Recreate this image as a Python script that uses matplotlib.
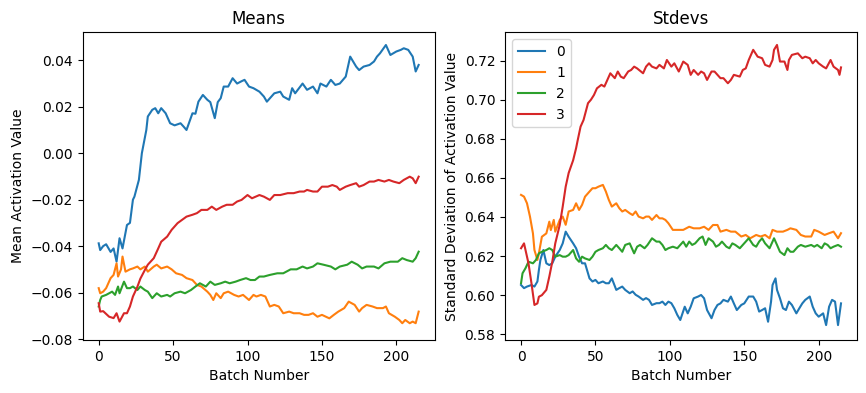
import matplotlib
matplotlib.use("Agg")
import matplotlib.pyplot as plt

# per-layer activation means (batch number, value)
mean0_x = [0, 1, 3, 5, 8, 10, 12, 14, 16, 19, 21, 23, 24, 27, 29, 32, 33, 36, 38, 40, 42, 45, 48, 51, 55, 57, 59,
           63, 65, 67, 70, 73, 75, 78, 80, 82, 84, 87, 90, 93, 96, 98, 101, 104, 108, 111, 113, 118, 122, 124, 128,
           130, 132, 137, 140, 144, 147, 149, 153, 156, 159, 162, 166, 169, 173, 175, 178, 182, 185, 187, 189, 193,
           196, 200, 203, 205, 208, 211, 213, 215]
mean0_y = [-0.0388, -0.0417, -0.0400, -0.0392, -0.0425, -0.0410, -0.0467, -0.0366, -0.0410, -0.0309, -0.0300,
           -0.0200, -0.0187, -0.0115, 0.0000, 0.0100, 0.0158, 0.0187, 0.0194, 0.0172, 0.0194, 0.0172, 0.0129, 0.0120,
           0.0129, 0.0115, 0.0100, 0.0172, 0.0170, 0.0222, 0.0251, 0.0230, 0.0220, 0.0151, 0.0220, 0.0237, 0.0287,
           0.0287, 0.0323, 0.0300, 0.0310, 0.0316, 0.0287, 0.0280, 0.0265, 0.0244, 0.0222, 0.0258, 0.0265, 0.0244,
           0.0230, 0.0280, 0.0258, 0.0300, 0.0273, 0.0287, 0.0258, 0.0300, 0.0287, 0.0316, 0.0294, 0.0300, 0.0330,
           0.0416, 0.0373, 0.0358, 0.0373, 0.0380, 0.0395, 0.0416, 0.0430, 0.0466, 0.0423, 0.0438, 0.0445, 0.0452,
           0.0445, 0.0416, 0.0352, 0.0380]

mean1_x = [0, 1, 3, 5, 8, 10, 12, 13, 15, 16, 18, 21, 23, 26, 28, 31, 33, 37, 39, 42, 46, 49, 52, 56, 59, 63, 66,
           69, 73, 75, 77, 79, 82, 84, 87, 91, 94, 97, 101, 104, 106, 109, 112, 115, 118, 121, 124, 128, 131, 135,
           138, 141, 144, 147, 150, 155, 158, 161, 165, 168, 172, 175, 177, 180, 184, 187, 191, 193, 195, 199, 202,
           204, 206, 209, 211, 213, 215]
mean1_y = [-0.0581, -0.0603, -0.0596, -0.0581, -0.0538, -0.0524, -0.0474, -0.0531, -0.0500, -0.0445, -0.0510,
           -0.0500, -0.0496, -0.0488, -0.0500, -0.0488, -0.0510, -0.0488, -0.0480, -0.0496, -0.0488, -0.0500,
           -0.0517, -0.0524, -0.0538, -0.0546, -0.0567, -0.0574, -0.0596, -0.0610, -0.0632, -0.0603, -0.0624,
           -0.0603, -0.0596, -0.0610, -0.0617, -0.0610, -0.0632, -0.0610, -0.0617, -0.0610, -0.0617, -0.0660,
           -0.0653, -0.0660, -0.0689, -0.0682, -0.0689, -0.0689, -0.0696, -0.0696, -0.0689, -0.0704, -0.0696,
           -0.0711, -0.0696, -0.0682, -0.0667, -0.0639, -0.0653, -0.0682, -0.0667, -0.0653, -0.0660, -0.0667,
           -0.0667, -0.0660, -0.0689, -0.0704, -0.0718, -0.0732, -0.0718, -0.0732, -0.0725, -0.0732, -0.0682]

mean2_x = [0, 1, 2, 5, 7, 9, 11, 13, 14, 17, 19, 21, 23, 26, 28, 31, 33, 36, 39, 42, 46, 48, 51, 55, 58, 62, 65,
           68, 72, 75, 78, 82, 85, 88, 92, 95, 99, 102, 105, 108, 111, 115, 120, 124, 129, 133, 137, 140, 144, 147,
           151, 156, 159, 162, 167, 170, 174, 177, 180, 185, 188, 192, 196, 201, 204, 207, 211, 213, 215]
mean2_y = [-0.0660, -0.0632, -0.0617, -0.0610, -0.0603, -0.0596, -0.0610, -0.0574, -0.0603, -0.0553, -0.0581,
           -0.0581, -0.0574, -0.0589, -0.0574, -0.0589, -0.0596, -0.0624, -0.0603, -0.0617, -0.0610, -0.0617,
           -0.0603, -0.0596, -0.0603, -0.0589, -0.0574, -0.0560, -0.0574, -0.0553, -0.0567, -0.0560, -0.0553,
           -0.0560, -0.0553, -0.0546, -0.0538, -0.0546, -0.0546, -0.0531, -0.0531, -0.0524, -0.0517, -0.0517,
           -0.0500, -0.0500, -0.0488, -0.0496, -0.0488, -0.0474, -0.0480, -0.0488, -0.0500, -0.0488, -0.0480,
           -0.0467, -0.0480, -0.0496, -0.0488, -0.0488, -0.0496, -0.0474, -0.0467, -0.0467, -0.0452, -0.0460,
           -0.0467, -0.0452, -0.0424]

mean3_x = [0, 1, 3, 7, 10, 12, 14, 17, 19, 21, 23, 26, 28, 31, 33, 37, 40, 42, 46, 49, 53, 56, 59, 63, 66, 69, 73,
           76, 79, 83, 86, 90, 93, 96, 100, 103, 108, 111, 115, 118, 122, 127, 131, 135, 138, 140, 144, 147, 150,
           154, 157, 160, 162, 166, 169, 173, 175, 178, 182, 185, 188, 192, 195, 198, 202, 205, 209, 211, 213, 215]
mean3_y = [-0.0646, -0.0682, -0.0680, -0.0704, -0.0710, -0.0689, -0.0725, -0.0689, -0.0689, -0.0660, -0.0617,
           -0.0575, -0.0540, -0.0503, -0.0480, -0.0452, -0.0410, -0.0381, -0.0359, -0.0330, -0.0301, -0.0287,
           -0.0273, -0.0265, -0.0258, -0.0244, -0.0244, -0.0230, -0.0244, -0.0230, -0.0222, -0.0222, -0.0208,
           -0.0201, -0.0180, -0.0194, -0.0180, -0.0187, -0.0201, -0.0180, -0.0180, -0.0172, -0.0172, -0.0165,
           -0.0165, -0.0158, -0.0165, -0.0165, -0.0144, -0.0144, -0.0137, -0.0144, -0.0158, -0.0144, -0.0137,
           -0.0129, -0.0144, -0.0137, -0.0122, -0.0122, -0.0115, -0.0122, -0.0115, -0.0122, -0.0129, -0.0115,
           -0.0101, -0.0108, -0.0129, -0.0101]

# per-layer activation standard deviations
std0_x = [0, 2, 4, 7, 9, 11, 12, 13, 15, 17, 19, 21, 23, 26, 28, 30, 32, 35, 37, 39, 41, 43, 46, 48, 50, 52, 55,
          57, 59, 61, 64, 66, 68, 70, 73, 75, 77, 79, 82, 84, 86, 88, 91, 93, 95, 97, 99, 101, 103, 105, 107, 110,
          112, 114, 116, 119, 121, 123, 125, 128, 130, 132, 134, 136, 139, 141, 143, 145, 148, 150, 153, 156, 158,
          160, 162, 164, 166, 168, 169, 171, 172, 174, 176, 178, 180, 182, 185, 187, 189, 191, 194, 196, 198, 200,
          203, 205, 207, 209, 211, 213, 215]
std0_y = [0.6052, 0.6036, 0.6044, 0.6052, 0.6044, 0.6070, 0.6129, 0.6180, 0.6231, 0.6163, 0.6154, 0.6163, 0.6197,
          0.6231, 0.6265, 0.6325, 0.6299, 0.6265, 0.6240, 0.6197, 0.6163, 0.6163, 0.6086, 0.6070, 0.6078, 0.6061,
          0.6070, 0.6061, 0.6061, 0.6086, 0.6027, 0.6036, 0.6044, 0.6027, 0.6010, 0.6019, 0.6002, 0.5993, 0.5976,
          0.5985, 0.5976, 0.5950, 0.5959, 0.5959, 0.5967, 0.5950, 0.5967, 0.5959, 0.5933, 0.5899, 0.5873, 0.5941,
          0.5907, 0.5941, 0.5984, 0.5993, 0.6001, 0.5984, 0.5924, 0.5882, 0.5924, 0.5950, 0.5958, 0.5976, 0.5967,
          0.5993, 0.5958, 0.5924, 0.5950, 0.5958, 0.5993, 0.5993, 0.5967, 0.5916, 0.5924, 0.5933, 0.5864, 0.5967,
          0.6052, 0.6086, 0.6027, 0.5984, 0.5933, 0.5924, 0.5967, 0.5950, 0.5907, 0.5933, 0.5958, 0.5976, 0.5993,
          0.5941, 0.5907, 0.5890, 0.5907, 0.5847, 0.5941, 0.5976, 0.5967, 0.5847, 0.5958]

std1_x = [0, 2, 4, 6, 8, 9, 11, 12, 14, 17, 19, 20, 22, 23, 26, 28, 30, 32, 35, 37, 39, 41, 43, 46, 48, 50, 52,
          55, 57, 59, 61, 64, 66, 68, 70, 73, 75, 77, 79, 82, 84, 86, 88, 91, 93, 95, 97, 99, 102, 105, 109, 111,
          113, 116, 120, 123, 126, 129, 132, 134, 138, 141, 144, 148, 151, 154, 158, 161, 164, 167, 169, 172, 176,
          179, 181, 185, 188, 191, 195, 197, 200, 204, 207, 210, 213, 215]
std1_y = [0.6513, 0.6504, 0.6470, 0.6402, 0.6316, 0.6231, 0.6180, 0.6214, 0.6299, 0.6316, 0.6376, 0.6333, 0.6385,
          0.6325, 0.6385, 0.6402, 0.6360, 0.6428, 0.6436, 0.6470, 0.6436, 0.6462, 0.6504, 0.6530, 0.6547, 0.6547,
          0.6555, 0.6564, 0.6530, 0.6487, 0.6453, 0.6470, 0.6445, 0.6428, 0.6436, 0.6419, 0.6410, 0.6428, 0.6402,
          0.6393, 0.6402, 0.6402, 0.6385, 0.6410, 0.6393, 0.6393, 0.6385, 0.6368, 0.6334, 0.6334, 0.6334, 0.6342,
          0.6350, 0.6342, 0.6342, 0.6350, 0.6334, 0.6359, 0.6359, 0.6325, 0.6334, 0.6325, 0.6325, 0.6300, 0.6308,
          0.6291, 0.6308, 0.6300, 0.6308, 0.6291, 0.6334, 0.6325, 0.6325, 0.6334, 0.6342, 0.6334, 0.6308, 0.6300,
          0.6300, 0.6334, 0.6325, 0.6308, 0.6317, 0.6325, 0.6291, 0.6317]

std2_x = [0, 1, 3, 5, 8, 10, 12, 14, 17, 19, 21, 23, 26, 28, 30, 32, 35, 37, 39, 41, 43, 46, 48, 50, 52, 55, 57,
          59, 61, 64, 66, 68, 70, 73, 75, 76, 78, 80, 83, 85, 88, 91, 93, 95, 97, 99, 102, 105, 109, 111, 113, 115,
          117, 120, 122, 124, 126, 129, 131, 133, 135, 138, 140, 142, 144, 147, 149, 151, 153, 156, 158, 160, 162,
          164, 167, 170, 172, 174, 177, 179, 181, 183, 186, 188, 191, 195, 197, 199, 202, 204, 206, 208, 210, 213,
          215]
std2_y = [0.6061, 0.6112, 0.6138, 0.6171, 0.6163, 0.6180, 0.6214, 0.6222, 0.6231, 0.6240, 0.6231, 0.6197, 0.6205,
          0.6197, 0.6197, 0.6205, 0.6231, 0.6188, 0.6171, 0.6197, 0.6188, 0.6180, 0.6197, 0.6222, 0.6231, 0.6240,
          0.6257, 0.6240, 0.6231, 0.6257, 0.6240, 0.6222, 0.6257, 0.6265, 0.6231, 0.6214, 0.6248, 0.6257, 0.6240,
          0.6257, 0.6291, 0.6274, 0.6274, 0.6257, 0.6231, 0.6240, 0.6248, 0.6240, 0.6274, 0.6248, 0.6274, 0.6257,
          0.6265, 0.6291, 0.6300, 0.6257, 0.6291, 0.6274, 0.6248, 0.6257, 0.6274, 0.6248, 0.6240, 0.6265, 0.6257,
          0.6240, 0.6257, 0.6274, 0.6291, 0.6257, 0.6248, 0.6274, 0.6291, 0.6265, 0.6240, 0.6291, 0.6257, 0.6222,
          0.6205, 0.6240, 0.6222, 0.6222, 0.6248, 0.6257, 0.6248, 0.6257, 0.6248, 0.6257, 0.6240, 0.6265, 0.6257,
          0.6240, 0.6248, 0.6257, 0.6248]

std3_x = [0, 2, 3, 5, 7, 9, 11, 12, 14, 17, 19, 21, 23, 26, 28, 30, 32, 35, 37, 38, 40, 42, 45, 47, 49, 51, 54,
          56, 58, 60, 63, 65, 67, 69, 72, 74, 76, 78, 82, 84, 86, 88, 91, 93, 96, 98, 101, 103, 106, 109, 112, 114,
          116, 119, 121, 123, 125, 128, 130, 132, 134, 136, 139, 141, 143, 147, 149, 151, 153, 156, 159, 162, 164,
          167, 169, 170, 172, 174, 177, 179, 180, 182, 186, 189, 191, 194, 196, 198, 200, 203, 205, 208, 210, 213,
          214, 215]
std3_y = [0.6240, 0.6265, 0.6231, 0.6163, 0.6061, 0.5950, 0.5958, 0.5992, 0.6000, 0.6027, 0.6095, 0.6171, 0.6265,
          0.6359, 0.6453, 0.6555, 0.6625, 0.6690, 0.6752, 0.6790, 0.6862, 0.6896, 0.6982, 0.7000, 0.7024, 0.7058,
          0.7076, 0.7067, 0.7101, 0.7135, 0.7110, 0.7144, 0.7118, 0.7110, 0.7144, 0.7152, 0.7169, 0.7160, 0.7135,
          0.7169, 0.7186, 0.7169, 0.7160, 0.7178, 0.7160, 0.7203, 0.7169, 0.7186, 0.7144, 0.7195, 0.7178, 0.7127,
          0.7152, 0.7127, 0.7144, 0.7135, 0.7101, 0.7144, 0.7144, 0.7127, 0.7110, 0.7110, 0.7084, 0.7101, 0.7127,
          0.7118, 0.7152, 0.7160, 0.7203, 0.7255, 0.7220, 0.7212, 0.7178, 0.7169, 0.7203, 0.7255, 0.7280, 0.7195,
          0.7195, 0.7152, 0.7203, 0.7229, 0.7237, 0.7212, 0.7220, 0.7212, 0.7186, 0.7203, 0.7186, 0.7169, 0.7160,
          0.7203, 0.7169, 0.7152, 0.7127, 0.7165]

labels = ['0', '1', '2', '3']
means = [(mean0_x, mean0_y), (mean1_x, mean1_y), (mean2_x, mean2_y), (mean3_x, mean3_y)]
stdevs = [(std0_x, std0_y), (std1_x, std1_y), (std2_x, std2_y), (std3_x, std3_y)]

fig, (ax1, ax2) = plt.subplots(1, 2, figsize=(8.66, 3.93), dpi=100)
fig.subplots_adjust(left=0.0955, right=0.9896, top=0.918, bottom=0.135, wspace=0.2)

for lab, (x, y) in zip(labels, means):
    ax1.plot(x, y, label=lab)
ax1.set_title('Means')
ax1.set_xlabel('Batch Number')
ax1.set_ylabel('Mean Activation Value')
ax1.set_xlim(-10.75, 225.75)
ax1.set_ylim(-0.0804, 0.0521)

for lab, (x, y) in zip(labels, stdevs):
    ax2.plot(x, y, label=lab)
ax2.set_title('Stdevs')
ax2.set_xlabel('Batch Number')
ax2.set_ylabel('Standard Deviation of Activation Value')
ax2.set_xlim(-10.75, 225.75)
ax2.set_ylim(0.5771, 0.7345)
ax2.legend(loc='upper left')

fig.savefig('out.png')
